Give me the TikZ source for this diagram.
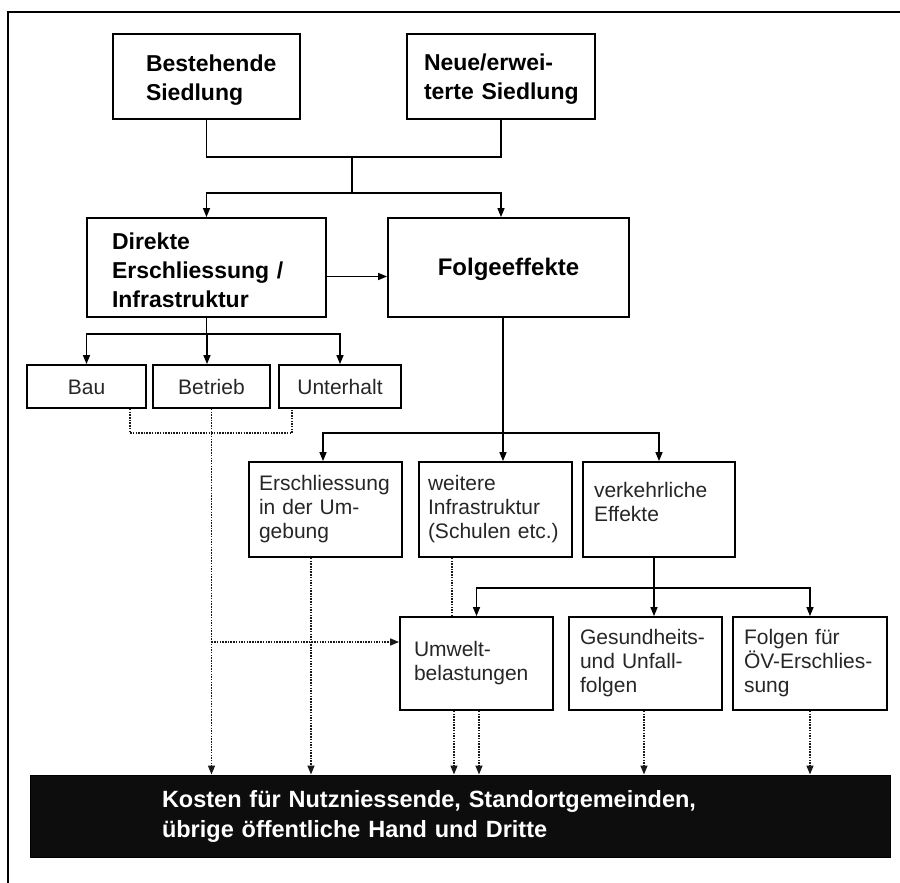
\documentclass[tikz,border=0pt]{standalone}
\usepackage{fontspec}
\setmainfont{Liberation Sans}
\usetikzlibrary{arrows.meta}
\tikzset{
  bx/.style={draw, line width=1.8pt, inner ysep=0pt, align=left},
  boldtxt/.style={font=\bfseries\fontsize{23}{29}\selectfont},
  regtxt/.style={font=\fontsize{21}{24}\selectfont, text=black!85},
  ln/.style={line width=1.4pt},
  arr/.style={ln, -{Triangle[length=9pt,width=7pt]}},
  dotln/.style={line width=1.5pt, black!90, dash pattern=on 1.5pt off 1.2pt},
  dotarr/.style={dotln, -{Triangle[length=9pt,width=7pt]}},
}
\begin{document}
\begin{tikzpicture}[x=1pt,y=-1pt]
\useasboundingbox (0,0) rectangle (900,883);
\draw[line width=2pt] (8,883) -- (8,12) -- (900,12);

% top boxes
\node[bx,boldtxt,text width=121pt,inner xsep=33pt,minimum height=85pt] (bs) at (206.5,76.5)
  {\mbox{\rule{0pt}{24.8pt}Bestehende}\\\mbox{Siedlung}};
\node[bx,boldtxt,text width=154pt,inner xsep=17pt,minimum height=85pt] (nw) at (501,76.5)
  {\mbox{\rule{0pt}{22.8pt}Neue/erwei-}\\\mbox{terte Siedlung}};

\node[bx,boldtxt,text width=189pt,inner xsep=25pt,minimum height=99pt] (de) at (206.5,267.5)
  {\mbox{\rule{0pt}{22.8pt}Direkte}\\\mbox{Erschliessung /}\\\mbox{Infrastruktur}};
\node[bx,boldtxt,font=\bfseries\fontsize{24}{29}\selectfont,align=center,text width=200pt,inner xsep=20.5pt,minimum height=99pt] (fe) at (508.5,267.5)
  {\mbox{\rule{0pt}{20.8pt}Folgeeffekte}};

% Bau / Betrieb / Unterhalt
\node[bx,regtxt,align=center,text width=111pt,inner xsep=4pt,minimum height=43pt] (bau) at (86.5,386.5) {\rule{0pt}{16pt}Bau};
\node[bx,regtxt,align=center,text width=109pt,inner xsep=4pt,minimum height=43pt] (bet) at (211.5,386.5) {\rule{0pt}{16pt}Betrieb};
\node[bx,regtxt,align=center,text width=114pt,inner xsep=4pt,minimum height=43pt] (unt) at (340,386.5) {\rule{0pt}{16pt}Unterhalt};

% second row
\node[bx,regtxt,text width=133pt,inner xsep=10pt,minimum height=95pt] (eu) at (325.5,509.5)
  {\mbox{Erschliessung}\\\mbox{in der Um-}\\\mbox{gebung}};
\node[bx,regtxt,text width=135pt,inner xsep=9pt,minimum height=95pt] (wi) at (495.5,509.5)
  {\mbox{weitere}\\\mbox{Infrastruktur}\\\mbox{(Schulen etc.)}};
\node[bx,regtxt,text width=130pt,inner xsep=11pt,minimum height=95pt] (ve) at (659,509.5)
  {\mbox{verkehrliche}\\\mbox{Effekte\rule[-16pt]{0pt}{16pt}}};

% third row
\node[bx,regtxt,text width=125pt,inner xsep=14pt,minimum height=93pt] (uw) at (476.5,663.5)
  {\mbox{Umwelt-}\\\mbox{belastungen}};
\node[bx,regtxt,text width=131pt,inner xsep=11pt,minimum height=93pt] (gu) at (645.5,663.5)
  {\mbox{Gesundheits-}\\\mbox{und Unfall-}\\\mbox{folgen}};
\node[bx,regtxt,text width=132pt,inner xsep=11pt,minimum height=93pt] (oev) at (810,663.5)
  {\mbox{Folgen für}\\\mbox{ÖV-Erschlies-}\\\mbox{sung}};

% cost bar
\node[fill=black!95,draw=black,line width=1pt,font=\bfseries\fontsize{23.5}{30}\selectfont,text=white,
  text width=596pt,inner xsep=132pt,inner ysep=0pt,minimum height=82pt,align=left] (ko) at (460,816)
  {\mbox{Kosten für Nutzniessende, Standortgemeinden,}\\\mbox{übrige öffentliche Hand und Dritte}};

% junction coordinates
\coordinate (j1) at (352,157);
\coordinate (j2) at (352,193);
\coordinate (j3) at (207,334);
\coordinate (dy) at (0,433);
\coordinate (j4) at (503,433);
\coordinate (j5) at (654,588);
\coordinate (hy) at (0,642);

% connectors top
\draw[ln] (bs.south) |- (j1) -| (nw.south);
\draw[ln] (j1) -- (j2);
\draw[arr] (j2) -| (de.north);
\draw[arr] (j2) -| (nw.south |- fe.north);
\draw[arr] ([yshift=-9pt]de.east) -- ([yshift=-9pt]de.east -| fe.west);

% Direkte -> Bau/Betrieb/Unterhalt
\draw[ln] (de.south |- j3) -- (de.south);
\draw[arr] (j3) -| (bau.north);
\draw[arr] (j3) -- (j3 |- bet.north);
\draw[arr] (j3) -| (unt.north);

% dotted Bau - Unterhalt
\draw[dotln] ([xshift=43.5pt]bau.south) |- (bet.south |- dy) -| ([xshift=-48pt]unt.south);
\draw[dotarr] (bet.south) -- (bet.south |- ko.north);
\draw[dotarr] (bet.south |- hy) -- (hy -| uw.west);

% Folgeeffekte -> second row
\draw[ln] (fe.south -| j4) -- (j4);
\draw[arr] (j4) -| ([xshift=-2.5pt]eu.north);
\draw[arr] (j4) -- (j4 |- wi.north);
\draw[arr] (j4) -| (ve.north);

% dotted from second row
\draw[dotarr] ([xshift=-14.5pt]eu.south) -- ([xshift=-14.5pt]eu.south |- ko.north);
\draw[dotln] ([xshift=-43.5pt]wi.south) -- ([xshift=-43.5pt]wi.south |- uw.north);

% verkehrliche -> third row
\draw[ln] (ve.south -| j5) -- (j5);
\draw[arr] (j5) -| (uw.north);
\draw[arr] (j5) -- (j5 |- gu.north);
\draw[arr] (j5) -| (oev.north);

% dotted from third row to cost bar
\draw[dotarr] ([xshift=-22.5pt]uw.south) -- ([xshift=-22.5pt]uw.south |- ko.north);
\draw[dotarr] ([xshift=2.5pt]uw.south) -- ([xshift=2.5pt]uw.south |- ko.north);
\draw[dotarr] ([xshift=-1.5pt]gu.south) -- ([xshift=-1.5pt]gu.south |- ko.north);
\draw[dotarr] (oev.south) -- (oev.south |- ko.north);
\end{tikzpicture}
\end{document}
